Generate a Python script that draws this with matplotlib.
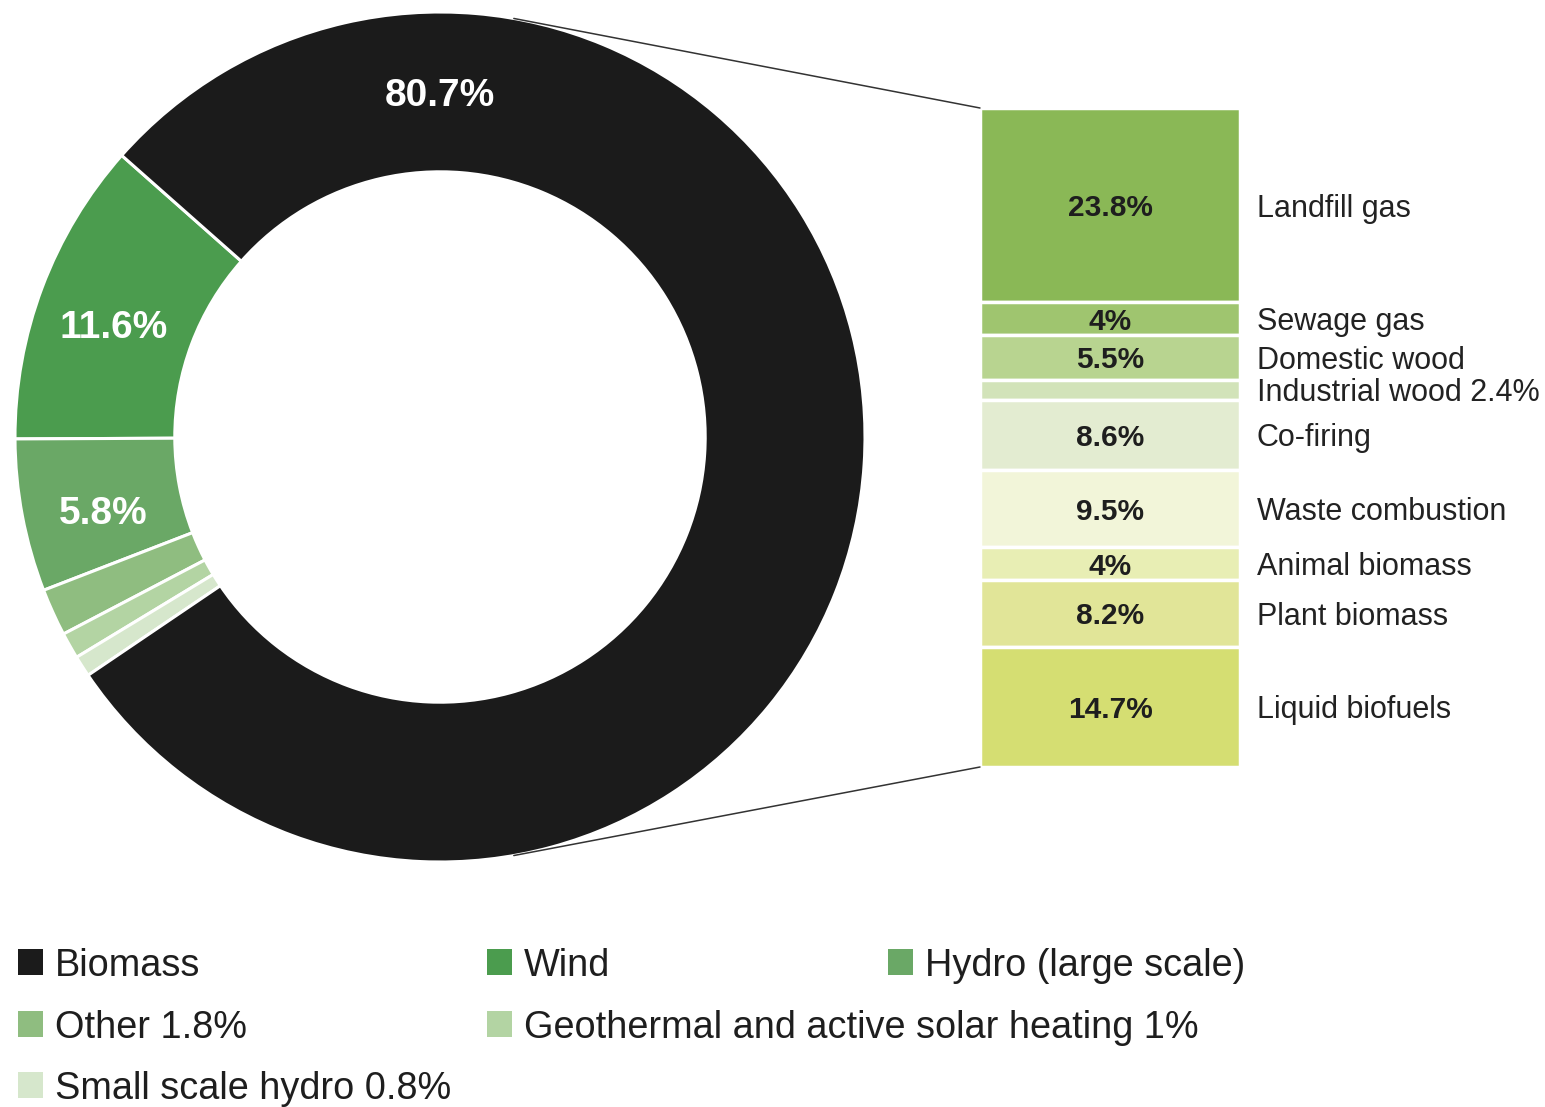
import matplotlib
matplotlib.use('Agg')
import matplotlib.pyplot as plt
from matplotlib.patches import ConnectionPatch, Rectangle
import numpy as np

plt.rcParams['font.family'] = ['Liberation Sans', 'DejaVu Sans']

# ---- data ----
ring_labels = ['Wind', 'Hydro (large scale)', 'Other', 'Geothermal and active solar heating',
               'Small scale hydro', 'Biomass']
ring_values = [11.6, 5.8, 1.8, 1.0, 0.8, 80.7]
ring_text = ['11.6%', '5.8%', '', '', '', '80.7%']
ring_colors = ['#4b9c4e', '#6aa866', '#8fbd80', '#b3d4a3', '#d6e7cc', '#1b1b1b']

bio_labels = ['Landfill gas', 'Sewage gas', 'Domestic wood', 'Industrial wood 2.4%', 'Co-firing',
              'Waste combustion', 'Animal biomass', 'Plant biomass', 'Liquid biofuels']
bio_values = [23.8, 4, 5.5, 2.4, 8.6, 9.5, 4, 8.2, 14.7]
bio_text = ['23.8%', '4%', '5.5%', '', '8.6%', '9.5%', '4%', '8.2%', '14.7%']
bio_colors = ['#8ab856', '#9fc56f', '#b8d490', '#d2e3b9', '#e3ecd1', '#f2f5d9',
              '#e8eeb4', '#e1e598', '#d5de72']

legend_labels = ['Biomass', 'Wind', 'Hydro (large scale)', 'Other 1.8%',
                 'Geothermal and active solar heating 1%', 'Small scale hydro 0.8%']
legend_colors = ['#1b1b1b', '#4b9c4e', '#6aa866', '#8fbd80', '#b3d4a3', '#d6e7cc']

# ---- figure ----
W, H = 1545, 1107
fig = plt.figure(figsize=(W / 100, H / 100), dpi=100)
fig.patch.set_facecolor('white')

# donut: small sources drawn at their share of the full circle, biomass fills the rest
cx, cy, R = 440, 437, 425
ax_pie = fig.add_axes([(cx - R) / W, (H - cy - R) / H, 2 * R / W, 2 * R / H])
fracs = [v / 100 for v in ring_values[:-1]]
fracs.append(1 - sum(fracs))
wedges, _ = ax_pie.pie(fracs, colors=ring_colors, startangle=138.5, counterclock=True,
                       radius=1, frame=True, normalize=False,
                       wedgeprops=dict(width=0.376, edgecolor='white', linewidth=2.2))
ax_pie.set_xlim(-1, 1)
ax_pie.set_ylim(-1, 1)
ax_pie.axis('off')
rmid = 1 - 0.376 / 2
for w, t, lab in zip(wedges, ring_text, ring_labels):
    if not t:
        continue
    ang = 90.0 if lab == 'Biomass' else (w.theta1 + w.theta2) / 2 + 1.5
    a = np.deg2rad(ang)
    ax_pie.text(rmid * np.cos(a), rmid * np.sin(a), t, ha='center', va='center_baseline',
                color='white', fontsize=28, fontweight='bold')

# stacked bar
bx0, bx1, by0, by1 = 980, 1240, 108, 767
ax_bar = fig.add_axes([bx0 / W, (H - by1) / H, (bx1 - bx0) / W, (by1 - by0) / H])
total = sum(bio_values)
bottoms = total - np.cumsum(bio_values)
ax_bar.bar([0.5] * len(bio_values), bio_values, bottom=bottoms, width=1.0,
           color=bio_colors, edgecolor='white', linewidth=2.5)
ax_bar.set_xlim(0, 1)
ax_bar.set_ylim(0, total)
ax_bar.axis('off')
for v, b, t, lab in zip(bio_values, bottoms, bio_text, bio_labels):
    yc = b + v / 2
    if t:
        ax_bar.text(0.5, yc, t, ha='center', va='center_baseline', fontsize=21.5,
                    fontweight='bold', color='#1e1e1e')
    ax_bar.text(1.065, yc, lab, ha='left', va='center_baseline', fontsize=22,
                color='#222222', clip_on=False)

# connector lines
for ang, yb in [(80, total), (-80, 0)]:
    a = np.deg2rad(ang)
    con = ConnectionPatch(xyA=(np.cos(a), np.sin(a)), coordsA=ax_pie.transData,
                          xyB=(0, yb), coordsB=ax_bar.transData,
                          color='#333333', linewidth=1.1)
    fig.add_artist(con)

# legend (manual layout)
ax_leg = fig.add_axes([0, 0, 1, 1])
ax_leg.set_xlim(0, W)
ax_leg.set_ylim(H, 0)
ax_leg.axis('off')
ax_leg.patch.set_alpha(0)
col_x = [18, 487, 888, 18, 487, 18]
row_y = [962, 962, 962, 1024, 1024, 1085]
for lab, col, x, y in zip(legend_labels, legend_colors, col_x, row_y):
    ax_leg.add_patch(Rectangle((x, y - 13), 25, 26, facecolor=col, edgecolor='none'))
    ax_leg.text(x + 37, y, lab, ha='left', va='center_baseline', fontsize=27.3, color='#1e1e1e')

fig.savefig('out.png', dpi=100, facecolor='white')
